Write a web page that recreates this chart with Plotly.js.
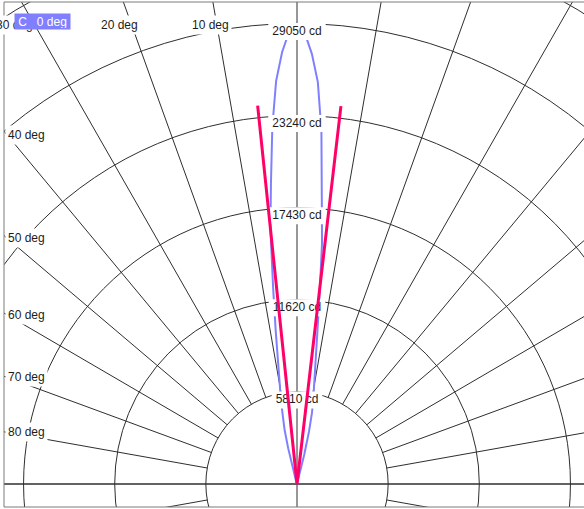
<!DOCTYPE html>
<html>
<head>
<meta charset="utf-8">
<script src="https://cdn.plot.ly/plotly-3.0.1.min.js"></script>
<style>
  html, body { margin: 0; padding: 0; background: #ffffff; overflow: hidden; }
  #chart { width: 584px; height: 509px; }
</style>
</head>
<body>
<div id="chart"></div>
<script>
// Luminous intensity distribution of a narrow-beam spot, C0 / C180 plane.
// Gamma angles in degrees, intensities in candela.
const gammaDeg      = [0, 1, 2, 3, 4, 5, 6, 7, 8, 9, 10, 11, 12, 13, 14, 15, 16, 17, 18, 19, 20, 25, 30, 40, 50, 60, 70, 80, 90];
const intensityC0   = [29050, 28450, 27150, 25390, 22310, 18140, 15265, 11650, 9150, 7554, 6285, 5430, 4575, 3400, 1900, 1000, 550, 350, 250, 180, 120, 80, 50, 30, 20, 15, 10, 5, 0];
const intensityC180 = [29050, 28550, 27250, 25450, 22560, 19050, 16200, 12500, 9740, 7715, 6285, 5430, 4575, 3530, 2330, 1650, 1000, 600, 350, 230, 150, 80, 50, 30, 20, 15, 10, 5, 0];

// Scale rings (cd) and their captions
const ringValues = [5810, 11620, 17430, 23240, 29050, 34860];
const ringLabels = ['5810 cd', '11620 cd', '17430 cd', '23240 cd', '29050 cd'];

// Gamma grid captions
const angleTicks  = [10, 20, 30, 40, 50, 60, 70, 80];
const angleLabels = ['10 deg', '20 deg', '30 deg', '40 deg', '50 deg', '60 deg', '70 deg', '80 deg'];

// Beam angle markers (half angles, degrees) and their drawn length (cd)
const beamHalfAngles = [-6.0, 6.7];
const beamLength = 24000;

const planeLabel = 'C\u00a0\u00a0\u00a00 deg';

// ---- geometry of the drawing -------------------------------------------
const W = 584, H = 509;
const frame = { l: 4, r: 0, t: 2, b: 2 };
const origin = { x: 297, y: 484 };            // lamp centre on the page
const ringStep = ringValues[0];
const kx = 91.15 / ringStep;                    // px per cd, horizontal
const ky = 92.1 / ringStep;                     // px per cd, vertical
const xRange = [(frame.l - origin.x) / kx, (W - frame.r - origin.x) / kx];
const yRange = [-(H - frame.b - origin.y) / ky, (origin.y - frame.t) / ky];
const pxToX = px => (px - origin.x) / kx;
const pyToY = py => (origin.y - py) / ky;
const rad = d => d * Math.PI / 180;

const FONT = 'Liberation Sans, Arial, sans-serif';
const TEXT = '#1c1c1c';
const GRID = '#2e2e2e';

// text width helper for the ring caption boxes
const ctx = document.createElement('canvas').getContext('2d');
ctx.font = '12px "Liberation Sans", Arial, sans-serif';
const textW = s => ctx.measureText(s).width;

// ---- radial grid lines ---------------------------------------------------
const gridX = [], gridY = [];
for (let a = 0; a < 360; a += 10) {
  const r0 = (a % 90 === 0) ? 0 : ringStep;   // spokes start on the first ring
  const r1 = 90000;
  gridX.push(r0 * Math.sin(rad(a)), r1 * Math.sin(rad(a)), null);
  gridY.push(r0 * Math.cos(rad(a)), r1 * Math.cos(rad(a)), null);
}
// horizontal axis through the centre
gridX.push(-90000, 90000, null); gridY.push(0, 0, null);

// ---- intensity curve -----------------------------------------------------
const curveX = [], curveY = [];
for (let i = gammaDeg.length - 1; i >= 0; i--) {
  const g = -gammaDeg[i], v = intensityC180[i];
  curveX.push(v * Math.sin(rad(g))); curveY.push(v * Math.cos(rad(g)));
}
for (let i = 1; i < gammaDeg.length; i++) {
  const g = gammaDeg[i], v = intensityC0[i];
  curveX.push(v * Math.sin(rad(g))); curveY.push(v * Math.cos(rad(g)));
}

// ---- ring captions: white boxes + text ----------------------------------
const boxX = [], boxY = [], capX = [], capY = [];
ringLabels.forEach((lab, i) => {
  const topPx = origin.y - ringValues[i] * ky;
  const half = textW(lab) / 2 + 4;
  const x0 = -half / kx, x1 = half / kx;
  const y0 = pyToY(topPx - 0.5), y1 = pyToY(topPx + 16.5);
  boxX.push(x0, x1, x1, x0, x0, null);
  boxY.push(y0, y0, y1, y1, y0, null);
  capX.push(0);
  capY.push(pyToY(topPx + 8));
});

// ---- beam angle markers --------------------------------------------------
const beamX = [beamLength * Math.sin(rad(beamHalfAngles[0])), 0, beamLength * Math.sin(rad(beamHalfAngles[1]))];
const beamY = [beamLength * Math.cos(rad(beamHalfAngles[0])), 0, beamLength * Math.cos(rad(beamHalfAngles[1]))];

// ---- gamma captions along the upper and left border ---------------------
const annotations = [];
angleTicks.forEach((a, i) => {
  const dx = -Math.sin(rad(a)) * kx, dy = -Math.cos(rad(a)) * ky;
  const tTop = (frame.t - origin.y) / dy;
  const xTop = origin.x + tTop * dx;
  if (xTop >= frame.l) {
    const t = (frame.t - 12 - origin.y) / dy;
    annotations.push({
      x: pxToX(origin.x + t * dx), y: pyToY(frame.t + 23), xref: 'x', yref: 'y',
      text: angleLabels[i], showarrow: false, xanchor: 'center', yanchor: 'middle',
      bgcolor: '#ffffff', borderpad: 2, font: { family: FONT, size: 12, color: TEXT }
    });
  } else {
    const xEdge = frame.l + 3;
    const t = (xEdge - origin.x) / dx;
    annotations.push({
      x: pxToX(frame.l + 0.5), y: pyToY(origin.y + t * dy), xref: 'x', yref: 'y',
      text: angleLabels[i], showarrow: false, xanchor: 'left', yanchor: 'middle',
      bgcolor: '#ffffff', borderpad: 2, font: { family: FONT, size: 12, color: TEXT }
    });
  }
});
// captions are cut off at the left frame edge
annotations.push({
  x: pxToX(-1), y: pyToY(0), xref: 'x', yref: 'y', text: '\u00a0', showarrow: false,
  xanchor: 'left', yanchor: 'top', width: 4.5, height: 60, borderpad: 0,
  bgcolor: '#ffffff', font: { family: FONT, size: 12, color: '#ffffff' }
});
annotations.push({
  x: pxToX(14), y: pyToY(13), xref: 'x', yref: 'y',
  text: planeLabel, showarrow: false, xanchor: 'left', yanchor: 'top',
  bgcolor: '#8080ff', borderpad: 1, width: 53, height: 13,
  font: { family: FONT, size: 12, color: '#ffffff' }
});

// ---- rings as shapes below the traces -----------------------------------
const shapes = ringValues.map(v => ({
  type: 'circle', xref: 'x', yref: 'y', layer: 'below',
  x0: -v, x1: v, y0: -v, y1: v,
  line: { color: GRID, width: 1 }
}));
// outer frame (left, top, bottom)
const frameLine = { color: '#7a7a7a', width: 1 };
shapes.push(
  { type: 'line', xref: 'paper', yref: 'paper', x0: 0, x1: 0, y0: 0, y1: 1, line: frameLine, layer: 'above' },
  { type: 'line', xref: 'paper', yref: 'paper', x0: 0, x1: 1, y0: 1, y1: 1, line: frameLine, layer: 'above' },
  { type: 'line', xref: 'paper', yref: 'paper', x0: 0, x1: 1, y0: 0, y1: 0, line: frameLine, layer: 'above' }
);

const traces = [
  { type: 'scatter', mode: 'lines', x: gridX, y: gridY, line: { color: GRID, width: 1 }, hoverinfo: 'skip' },
  { type: 'scatter', mode: 'lines', x: curveX, y: curveY, line: { color: '#8080ff', width: 2 }, hoverinfo: 'skip' },
  { type: 'scatter', mode: 'lines', x: boxX, y: boxY, fill: 'toself', fillcolor: '#ffffff', line: { width: 0, color: 'rgba(0,0,0,0)' }, hoverinfo: 'skip' },
  { type: 'scatter', mode: 'text', x: capX, y: capY, text: ringLabels, textposition: 'middle center',
    textfont: { family: FONT, size: 12, color: TEXT }, hoverinfo: 'skip' },
  { type: 'scatter', mode: 'lines', x: beamX, y: beamY, line: { color: '#ff0066', width: 3 }, hoverinfo: 'skip' }
];

const axisBase = { showgrid: false, zeroline: false, showticklabels: false, ticks: '', showline: false, fixedrange: true };
const layout = {
  width: W, height: H,
  margin: { l: frame.l, r: frame.r, t: frame.t, b: frame.b, pad: 0 },
  paper_bgcolor: '#ffffff', plot_bgcolor: '#ffffff',
  showlegend: false,
  xaxis: Object.assign({ range: xRange }, axisBase),
  yaxis: Object.assign({ range: yRange }, axisBase),
  shapes: shapes,
  annotations: annotations
};

Plotly.newPlot('chart', traces, layout, { staticPlot: true, displayModeBar: false });
</script>
</body>
</html>
